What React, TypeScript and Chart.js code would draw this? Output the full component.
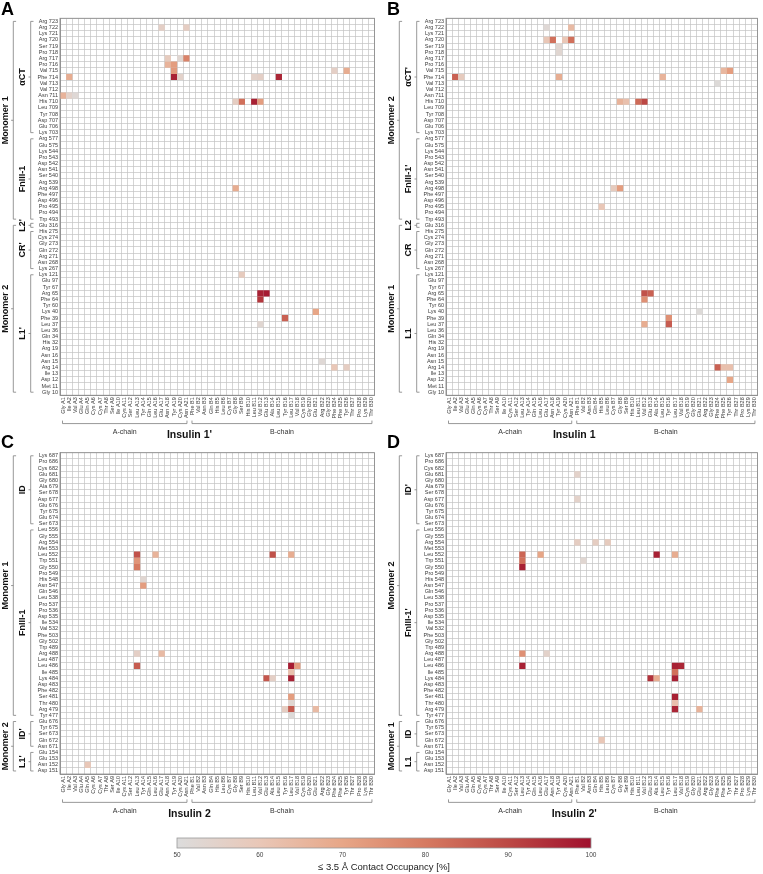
import React, { useEffect, useRef } from 'react';
import { Chart, registerables } from 'chart.js';

Chart.register(...registerables);

const FONT = "'Liberation Sans', Arial, Helvetica, sans-serif";
Chart.defaults.font.family = FONT;

// ---------- insulin residues (columns) ----------
const A_CHAIN = ['Gly A1', 'Ile A2', 'Val A3', 'Glu A4', 'Gln A5', 'Cys A6', 'Cys A7', 'Thr A8', 'Ser A9', 'Ile A10', 'Cys A11', 'Ser A12', 'Leu A13', 'Tyr A14', 'Gln A15', 'Leu A16', 'Glu A17', 'Asn A18', 'Tyr A19', 'Cys A20', 'Asn A21'];
const B_CHAIN = ['Phe B1', 'Val B2', 'Asn B3', 'Gln B4', 'His B5', 'Leu B6', 'Cys B7', 'Gly B8', 'Ser B9', 'His B10', 'Leu B11', 'Val B12', 'Glu B13', 'Ala B14', 'Leu B15', 'Tyr B16', 'Leu B17', 'Val B18', 'Cys B19', 'Gly B20', 'Glu B21', 'Arg B22', 'Gly B23', 'Phe B24', 'Phe B25', 'Tyr B26', 'Thr B27', 'Pro B28', 'Lys B29', 'Thr B30'];
const RESIDUES = [...A_CHAIN, ...B_CHAIN];

// ---------- receptor residues (rows) ----------
const ROWS_AB = ['Arg 723', 'Arg 722', 'Lys 721', 'Arg 720', 'Ser 719', 'Pro 718', 'Arg 717', 'Pro 716', 'Val 715', 'Phe 714', 'Val 713', 'Val 712', 'Asn 711', 'His 710', 'Leu 709', 'Tyr 708', 'Asp 707', 'Glu 706', 'Lys 703',
  'Arg 577', 'Glu 575', 'Lys 544', 'Pro 543', 'Asp 542', 'Asn 541', 'Ser 540', 'Arg 539', 'Arg 498', 'Phe 497', 'Asp 496', 'Pro 495', 'Pro 494', 'Trp 493',
  'Glu 316',
  'His 275', 'Cys 274', 'Gly 273', 'Gln 272', 'Arg 271', 'Asn 268', 'Lys 267',
  'Lys 121', 'Glu 97', 'Tyr 67', 'Arg 65', 'Phe 64', 'Tyr 60', 'Lys 40', 'Phe 39', 'Leu 37', 'Leu 36', 'Gln 34', 'His 32', 'Arg 19', 'Asn 16', 'Asn 15', 'Arg 14', 'Ile 13', 'Asp 12', 'Met 11', 'Gly 10'];
const ROWS_CD = ['Lys 687', 'Pro 686', 'Cys 682', 'Glu 681', 'Gly 680', 'Ala 679', 'Ser 678', 'Asp 677', 'Glu 676', 'Tyr 675', 'Glu 674', 'Ser 673',
  'Leu 556', 'Gly 555', 'Arg 554', 'Met 553', 'Leu 552', 'Trp 551', 'Gly 550', 'Pro 549', 'His 548', 'Asn 547', 'Gln 546', 'Leu 538', 'Pro 537', 'Pro 536', 'Asp 535', 'Ile 534', 'Val 532', 'Phe 503', 'Gly 502', 'Trp 489', 'Arg 488', 'Leu 487', 'Leu 486', 'Ile 485', 'Lys 484', 'Asp 483', 'Phe 482', 'Ser 481', 'Thr 480', 'Arg 479', 'Tyr 477',
  'Glu 676', 'Tyr 675', 'Ser 673', 'Gln 672', 'Asn 671',
  'Glu 154', 'Glu 153', 'Asn 152', 'Asp 151'];

// ---------- domain groups: [label, number of rows] ----------
const INNER_A: [string, number][] = [['\u03b1CT', 19], ['FnIII-1', 14], ["L2'", 1], ["CR'", 7], ["L1'", 20]];
const OUTER_A: [string, number][] = [['Monomer 1', 33], ['Monomer 2', 28]];
const INNER_B: [string, number][] = [["\u03b1CT'", 19], ["FnIII-1'", 14], ['L2', 1], ['CR', 7], ['L1', 20]];
const OUTER_B: [string, number][] = [['Monomer 2', 33], ['Monomer 1', 28]];
const INNER_C: [string, number][] = [['ID', 12], ['FnIII-1', 31], ["ID'", 5], ["L1'", 4]];
const OUTER_C: [string, number][] = [['Monomer 1', 43], ['Monomer 2', 9]];
const INNER_D: [string, number][] = [["ID'", 12], ["FnIII-1'", 31], ['ID', 5], ['L1', 4]];
const OUTER_D: [string, number][] = [['Monomer 2', 43], ['Monomer 1', 9]];

// ---------- contact occupancies [receptor residue, insulin residue, %] ----------
const CELLS_A: [string, string, number][] = [
  ['Arg 722', 'Glu A17', 56], ['Arg 722', 'Asn A21', 57],
  ['Arg 717', 'Asn A18', 58], ['Arg 717', 'Cys A20', 53], ['Arg 717', 'Asn A21', 78],
  ['Pro 716', 'Asn A18', 66], ['Pro 716', 'Tyr A19', 72],
  ['Val 715', 'Tyr A19', 73], ['Val 715', 'Phe B24', 56], ['Val 715', 'Tyr B26', 68],
  ['Phe 714', 'Ile A2', 68], ['Phe 714', 'Tyr A19', 97], ['Phe 714', 'Cys A20', 55], ['Phe 714', 'Leu B11', 55], ['Phe 714', 'Val B12', 56], ['Phe 714', 'Leu B15', 96],
  ['Asn 711', 'Gly A1', 66], ['Asn 711', 'Ile A2', 55], ['Asn 711', 'Val A3', 52],
  ['His 710', 'Gly B8', 57], ['His 710', 'Ser B9', 82], ['His 710', 'Leu B11', 97], ['His 710', 'Val B12', 72],
  ['Arg 498', 'Gly B8', 68],
  ['Lys 121', 'Ser B9', 58],
  ['Arg 65', 'Val B12', 97], ['Arg 65', 'Glu B13', 98],
  ['Phe 64', 'Val B12', 93],
  ['Lys 40', 'Glu B21', 70],
  ['Phe 39', 'Tyr B16', 85],
  ['Leu 37', 'Val B12', 53],
  ['Asn 15', 'Arg B22', 52],
  ['Arg 14', 'Phe B24', 60], ['Arg 14', 'Tyr B26', 57],
];
const CELLS_B: [string, string, number][] = [
  ['Arg 722', 'Glu A17', 52], ['Arg 722', 'Asn A21', 64],
  ['Arg 720', 'Glu A17', 60], ['Arg 720', 'Asn A18', 82], ['Arg 720', 'Cys A20', 60], ['Arg 720', 'Asn A21', 82],
  ['Ser 719', 'Tyr A19', 53], ['Pro 718', 'Tyr A19', 53],
  ['Val 715', 'Phe B25', 65], ['Val 715', 'Tyr B26', 72],
  ['Phe 714', 'Ile A2', 85], ['Phe 714', 'Val A3', 58], ['Phe 714', 'Tyr A19', 68], ['Phe 714', 'Leu B15', 66],
  ['Val 713', 'Phe B24', 51],
  ['His 710', 'Gly B8', 66], ['His 710', 'Ser B9', 62], ['His 710', 'Leu B11', 83], ['His 710', 'Val B12', 90],
  ['Arg 498', 'Cys B7', 58], ['Arg 498', 'Gly B8', 72],
  ['Pro 495', 'His B5', 60],
  ['Arg 65', 'Val B12', 88], ['Arg 65', 'Glu B13', 85],
  ['Phe 64', 'Val B12', 75],
  ['Lys 40', 'Glu B21', 51],
  ['Phe 39', 'Tyr B16', 75],
  ['Leu 37', 'Val B12', 68], ['Leu 37', 'Tyr B16', 86],
  ['Arg 14', 'Phe B24', 85], ['Arg 14', 'Phe B25', 62], ['Arg 14', 'Tyr B26', 62],
  ['Asp 12', 'Tyr B26', 70],
];
const CELLS_C: [string, string, number][] = [
  ['Leu 552', 'Leu A13', 88], ['Leu 552', 'Leu A16', 66], ['Leu 552', 'Ala B14', 88], ['Leu 552', 'Leu B17', 68],
  ['Trp 551', 'Leu A13', 74], ['Gly 550', 'Leu A13', 80],
  ['His 548', 'Tyr A14', 53], ['Asn 547', 'Tyr A14', 72],
  ['Arg 488', 'Leu A13', 56], ['Arg 488', 'Glu A17', 64],
  ['Leu 486', 'Leu A13', 86], ['Leu 486', 'Leu B17', 98], ['Leu 486', 'Val B18', 72],
  ['Ile 485', 'Leu B17', 62],
  ['Lys 484', 'Glu B13', 87], ['Lys 484', 'Ala B14', 56], ['Lys 484', 'Leu B17', 97],
  ['Ser 481', 'Leu B17', 72], ['Thr 480', 'Leu B17', 53],
  ['Arg 479', 'Tyr B16', 57], ['Arg 479', 'Leu B17', 86], ['Arg 479', 'Glu B21', 64],
  ['Tyr 477', 'Leu B17', 51],
  ['Asn 152', 'Gln A5', 60],
];
const CELLS_D: [string, string, number][] = [
  ['Glu 681', 'Phe B1', 55], ['Asp 677', 'Phe B1', 55],
  ['Arg 554', 'Phe B1', 57], ['Arg 554', 'Gln B4', 57], ['Arg 554', 'Leu B6', 58],
  ['Leu 552', 'Leu A13', 84], ['Leu 552', 'Leu A16', 70], ['Leu 552', 'Ala B14', 97], ['Leu 552', 'Leu B17', 68],
  ['Trp 551', 'Leu A13', 82], ['Trp 551', 'Val B2', 53],
  ['Gly 550', 'Leu A13', 97],
  ['Arg 488', 'Leu A13', 75], ['Arg 488', 'Glu A17', 55],
  ['Leu 486', 'Leu A13', 97], ['Leu 486', 'Leu B17', 97], ['Leu 486', 'Val B18', 96],
  ['Ile 485', 'Leu B17', 82],
  ['Lys 484', 'Glu B13', 94], ['Lys 484', 'Ala B14', 68], ['Lys 484', 'Leu B17', 97],
  ['Ser 481', 'Leu B17', 97], ['Thr 480', 'Leu B17', 62],
  ['Arg 479', 'Leu B17', 96], ['Arg 479', 'Glu B21', 66],
  ['Gln 672', 'His B5', 60],
];

// ---------- colour scale ----------
const COLORBAR_TICKS = [50, 60, 70, 80, 90, 100];
const COLOR_STOPS: [number, number[]][] = [
  [50, [220, 220, 220]], [60, [233, 199, 183]], [70, [231, 166, 135]],
  [80, [214, 122, 97]], [90, [188, 72, 68]], [100, [160, 16, 45]],
];

function occColor(v: number) {
  let c = COLOR_STOPS[COLOR_STOPS.length - 1][1];
  for (let i = 1; i < COLOR_STOPS.length; i++) {
    const [v0, c0] = COLOR_STOPS[i - 1];
    const [v1, c1] = COLOR_STOPS[i];
    if (v <= v1) {
      const t = Math.max(0, (v - v0) / (v1 - v0));
      c = c0.map((a, k) => Math.round(a + (c1[k] - a) * t));
      break;
    }
  }
  return `rgb(${c.join(',')})`;
}

// ---------- layout ----------
const CELL_W = 6.2;
const CELL_H = 6.18;
const Y_AXIS_W = 60;
const X_AXIS_H = 26;

const PANELS = [
  { letter: 'A', left: 0, top: 0, width: 380, height: 445, gridTop: 18.3, letterY: 15, rows: ROWS_AB, cells: CELLS_A, inner: INNER_A, outer: OUTER_A, title: "Insulin 1'" },
  { letter: 'B', left: 386, top: 0, width: 377, height: 445, gridTop: 18.3, letterY: 15, rows: ROWS_AB, cells: CELLS_B, inner: INNER_B, outer: OUTER_B, title: 'Insulin 1' },
  { letter: 'C', left: 0, top: 430, width: 380, height: 405, gridTop: 22.7, letterY: 18, rows: ROWS_CD, cells: CELLS_C, inner: INNER_C, outer: OUTER_C, title: 'Insulin 2' },
  { letter: 'D', left: 386, top: 430, width: 377, height: 405, gridTop: 22.7, letterY: 18, rows: ROWS_CD, cells: CELLS_D, inner: INNER_D, outer: OUTER_D, title: "Insulin 2'" },
];

function makeDecor(p: any) {
  return {
    id: 'decor' + p.letter,
    afterDraw(chart: any) {
      const { ctx, chartArea: ca } = chart;
      const x = chart.scales.x;
      const y = chart.scales.y;
      ctx.save();
      // frame
      ctx.strokeStyle = '#8e8e8e';
      ctx.lineWidth = 0.9;
      ctx.strokeRect(ca.left, ca.top, ca.right - ca.left, ca.bottom - ca.top);
      // panel letter
      ctx.fillStyle = '#000';
      ctx.font = `bold 18px ${FONT}`;
      ctx.textAlign = 'left';
      ctx.textBaseline = 'alphabetic';
      ctx.fillText(p.letter, 1, p.letterY);

      const drawGroups = (groups: [string, number][], lineX: number, labelX: number) => {
        let start = 0;
        for (const [label, n] of groups) {
          let y0 = y.getPixelForValue(start);
          let y1 = y.getPixelForValue(start + n - 1);
          if (n === 1) { y0 -= 2; y1 += 2; }
          const ym = (y0 + y1) / 2;
          ctx.strokeStyle = '#7d7d7d';
          ctx.lineWidth = 0.8;
          ctx.beginPath();
          ctx.moveTo(lineX + 2.8, y0);
          ctx.lineTo(lineX, y0);
          ctx.lineTo(lineX, y1);
          ctx.lineTo(lineX + 2.8, y1);
          ctx.moveTo(lineX, ym);
          ctx.lineTo(lineX - 2.2, ym);
          ctx.stroke();
          ctx.save();
          ctx.translate(labelX, ym);
          ctx.rotate(-Math.PI / 2);
          ctx.fillStyle = '#111';
          ctx.font = `bold 9px ${FONT}`;
          ctx.textAlign = 'center';
          ctx.textBaseline = 'middle';
          ctx.fillText(label, 0, 0);
          ctx.restore();
          start += n;
        }
      };
      drawGroups(p.inner, ca.left - 29.3, ca.left - 37);
      drawGroups(p.outer, ca.left - 46.7, ca.left - 54);

      // chain brackets
      const cw = x.getPixelForValue(1) - x.getPixelForValue(0);
      const by = ca.bottom + 28.3;
      const chains: [string, number, number][] = [
        ['A-chain', 0, A_CHAIN.length - 1],
        ['B-chain', A_CHAIN.length, RESIDUES.length - 1],
      ];
      for (const [label, i0, i1] of chains) {
        const xa = x.getPixelForValue(i0) - cw / 2 + 2.5;
        const xb = x.getPixelForValue(i1) + cw / 2 - 2.5;
        ctx.strokeStyle = '#7d7d7d';
        ctx.lineWidth = 0.8;
        ctx.beginPath();
        ctx.moveTo(xa, by - 3);
        ctx.lineTo(xa, by);
        ctx.lineTo(xb, by);
        ctx.lineTo(xb, by - 3);
        ctx.stroke();
        ctx.fillStyle = '#333';
        ctx.font = `7px ${FONT}`;
        ctx.textAlign = 'center';
        ctx.textBaseline = 'alphabetic';
        ctx.fillText(label, (xa + xb) / 2, ca.bottom + 38.8);
      }
      const xm = (x.getPixelForValue(A_CHAIN.length - 1) + x.getPixelForValue(A_CHAIN.length)) / 2;
      ctx.fillStyle = '#111';
      ctx.font = `bold 10.5px ${FONT}`;
      ctx.textAlign = 'center';
      ctx.textBaseline = 'alphabetic';
      ctx.fillText(p.title, xm, ca.bottom + 42.5);
      ctx.restore();
    },
  };
}

function HeatPanel({ p }: { p: any }) {
  const ref = useRef<HTMLCanvasElement>(null);
  useEffect(() => {
    if (!ref.current) return;
    const data = p.cells.map(([r, c, v]: [string, string, number]) => ({ x: RESIDUES.indexOf(c), y: p.rows.indexOf(r), v }));
    const padBottom = p.height - p.gridTop - p.rows.length * CELL_H - X_AXIS_H;
    const padRight = p.width - Y_AXIS_W - RESIDUES.length * CELL_W;
    const gridOpts = { offset: true, color: '#c3c3c3', lineWidth: 0.7, drawTicks: false };
    const chart = new Chart(ref.current, {
      type: 'scatter',
      data: {
        datasets: [{
          data,
          parsing: false,
          pointStyle: 'rect',
          pointRadius: CELL_W / Math.SQRT2,
          pointHoverRadius: CELL_W / Math.SQRT2,
          pointBorderWidth: 0,
          pointBackgroundColor: data.map((d: any) => occColor(d.v)),
        }],
      } as any,
      options: {
        animation: false,
        responsive: false,
        events: [],
        layout: { autoPadding: false, padding: { top: p.gridTop, left: 0, right: padRight, bottom: padBottom } },
        plugins: { legend: { display: false }, tooltip: { enabled: false } },
        scales: {
          x: {
            type: 'category', labels: RESIDUES, offset: true, position: 'bottom',
            grid: gridOpts,
            border: { color: '#8e8e8e', width: 0.9 },
            ticks: { autoSkip: false, maxRotation: 90, minRotation: 90, font: { size: 5.5 }, color: '#3c3c3c', padding: 2 },
            afterFit: (s: any) => { s.height = X_AXIS_H; },
          },
          y: {
            type: 'category', labels: p.rows, offset: true, position: 'left',
            grid: gridOpts,
            border: { color: '#8e8e8e', width: 0.9 },
            ticks: { autoSkip: false, font: { size: 5.5 }, color: '#3c3c3c', padding: 2 },
            afterFit: (s: any) => { s.width = Y_AXIS_W; },
          },
        },
      } as any,
      plugins: [makeDecor(p)],
    });
    return () => chart.destroy();
  }, []);
  return (
    <canvas
      ref={ref}
      width={p.width}
      height={p.height}
      style={{ position: 'absolute', left: p.left, top: p.top, width: p.width, height: p.height }}
    />
  );
}

const gradientPlugin = {
  id: 'gradientBar',
  beforeDatasetsDraw(chart: any) {
    const { ctx, chartArea: ca } = chart;
    const x = chart.scales.x;
    const x0 = x.getPixelForValue(50);
    const x1 = x.getPixelForValue(100);
    const g = ctx.createLinearGradient(x0, 0, x1, 0);
    COLOR_STOPS.forEach(([v, c]) => g.addColorStop((v - 50) / 50, `rgb(${c.join(',')})`));
    ctx.save();
    ctx.fillStyle = g;
    ctx.fillRect(ca.left, ca.top, ca.right - ca.left, ca.bottom - ca.top);
    ctx.strokeStyle = '#9a9a9a';
    ctx.lineWidth = 0.8;
    ctx.strokeRect(ca.left, ca.top, ca.right - ca.left, ca.bottom - ca.top);
    ctx.restore();
  },
};

function ColorBar() {
  const ref = useRef<HTMLCanvasElement>(null);
  useEffect(() => {
    if (!ref.current) return;
    const chart = new Chart(ref.current, {
      type: 'scatter',
      data: { datasets: [{ data: [] }] },
      options: {
        animation: false,
        responsive: false,
        events: [],
        layout: { autoPadding: false, padding: { left: 27, right: 29, top: 8, bottom: 0 } },
        plugins: { legend: { display: false }, tooltip: { enabled: false } },
        scales: {
          x: {
            type: 'linear', min: 50, max: 100,
            afterBuildTicks: (s: any) => { s.ticks = COLORBAR_TICKS.map((v) => ({ value: v })); },
            ticks: { font: { size: 6.5 }, color: '#444', padding: 3 },
            grid: { display: false, drawTicks: false },
            border: { display: false },
            title: { display: true, text: '\u2264 3.5 \u00c5 Contact Occupancy [%]', font: { size: 9.5 }, color: '#222', padding: { top: 0, bottom: 1 } },
            afterFit: (s: any) => { s.height = 26; },
          },
          y: { display: false, min: 0, max: 1 },
        },
      } as any,
      plugins: [gradientPlugin],
    });
    return () => chart.destroy();
  }, []);
  return (
    <canvas
      ref={ref}
      width={470}
      height={44}
      style={{ position: 'absolute', left: 150, top: 830, width: 470, height: 44 }}
    />
  );
}

export default function App() {
  return (
    <div style={{ position: 'absolute', left: 0, top: 0, width: 763, height: 874, overflow: 'hidden', background: '#fff' }}>
      {PANELS.map((p) => <HeatPanel key={p.letter} p={p} />)}
      <ColorBar />
    </div>
  );
}
